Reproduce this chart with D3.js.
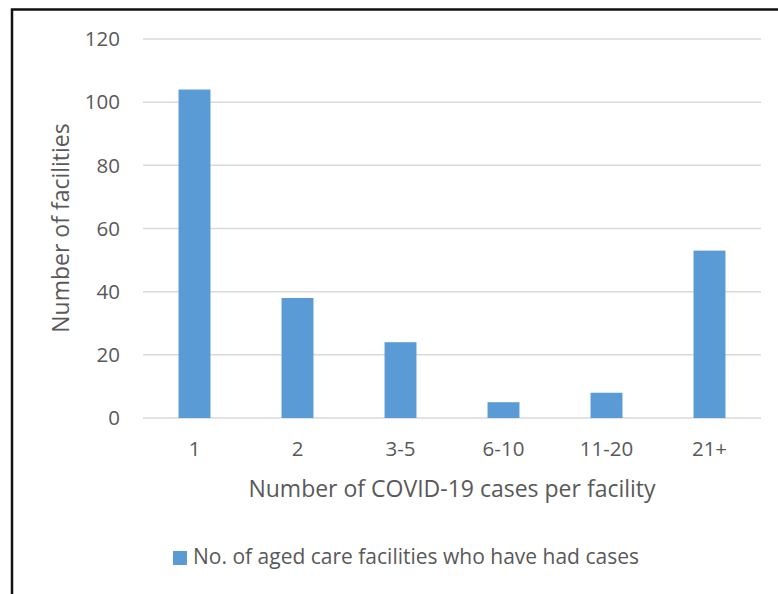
<!DOCTYPE html>
<html><head><meta charset="utf-8">
<script src="https://cdn.jsdelivr.net/npm/d3@7"></script>
<style>body{margin:0;background:#fff}svg{display:block}</style>
</head><body>
<script>
const categories = ["1","2","3-5","6-10","11-20","21+"];
const values = [104, 38, 24, 5, 8, 53];
const yTicks = [0,20,40,60,80,100,120];
const seriesName = "No. of aged care facilities who have had cases";
const xTitle = "Number of COVID-19 cases per facility";
const yTitle = "Number of facilities";

const W = 778, H = 594;
const font = "'Open Sans', sans-serif";
const svg = d3.select("body").append("svg").attr("width", W).attr("height", H);
svg.append("rect").attr("x", 12).attr("y", 9.5).attr("width", 800).attr("height", 700)
  .attr("fill", "none").attr("stroke", "#111").attr("stroke-width", 2.5);

const plot = {left: 143, right: 761, top: 39, bottom: 418};
const x = d3.scaleBand().domain(categories).range([plot.left, plot.right]).paddingInner(0.69).paddingOuter(0.345);
const y = d3.scaleLinear().domain([0,120]).range([plot.bottom, plot.top]);

svg.append("g").selectAll("line").data(yTicks).join("line")
  .attr("x1", plot.left).attr("x2", plot.right)
  .attr("y1", d => y(d)).attr("y2", d => y(d))
  .attr("stroke", "#d9d9d9").attr("stroke-width", 1.5);

svg.append("g").selectAll("rect").data(values).join("rect")
  .attr("x", (d,i) => x(categories[i])).attr("width", x.bandwidth())
  .attr("y", d => y(d)).attr("height", d => y(0) - y(d))
  .attr("fill", "#5b9bd5");

svg.append("g").selectAll("text").data(yTicks).join("text")
  .attr("x", 120).attr("y", d => y(d)).attr("dy", "0.35em")
  .attr("text-anchor", "end").attr("font-family", font).attr("font-size", 20.5).attr("fill", "#595959")
  .text(d => d);

svg.append("g").selectAll("text").data(categories).join("text")
  .attr("x", d => x(d) + x.bandwidth()/2).attr("y", 449).attr("dy", "0.35em")
  .attr("text-anchor", "middle").attr("font-family", font).attr("font-size", 20.5).attr("fill", "#595959")
  .text(d => d);

svg.append("text").attr("x", 452).attr("y", 489).attr("dy", "0.35em")
  .attr("text-anchor", "middle").attr("font-family", font).attr("font-size", 23).attr("fill", "#595959")
  .text(xTitle);

svg.append("text").attr("transform", "translate(61,228) rotate(-90)").attr("dy", "0.35em")
  .attr("text-anchor", "middle").attr("font-family", font).attr("font-size", 23).attr("fill", "#595959")
  .text(yTitle);

svg.append("rect").attr("x", 173).attr("y", 551).attr("width", 14).attr("height", 14).attr("fill", "#5b9bd5");
svg.append("text").attr("x", 193).attr("y", 557).attr("dy", "0.35em")
  .attr("font-family", font).attr("font-size", 21).attr("fill", "#595959")
  .text(seriesName);
</script>
</body></html>
